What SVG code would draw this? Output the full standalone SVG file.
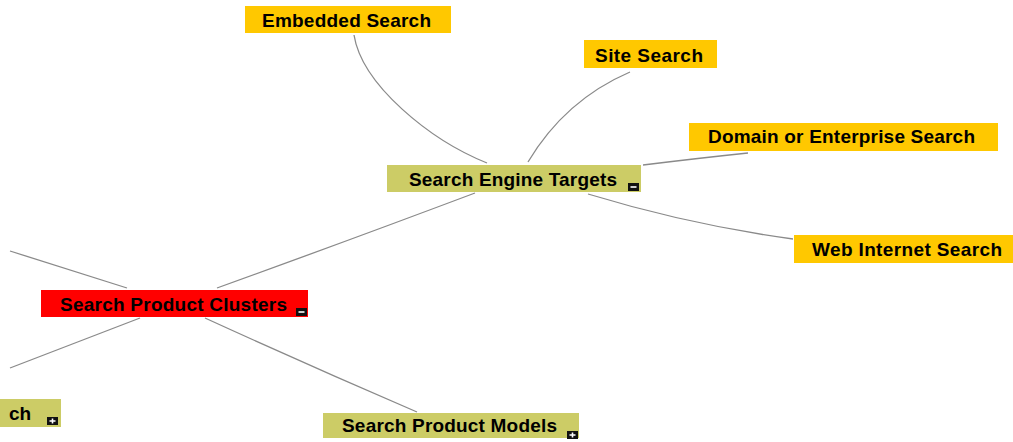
<svg xmlns="http://www.w3.org/2000/svg" width="1013" height="442" viewBox="0 0 1013 442">
  <style>
    .leaf { fill: #FFC800; }
    .branch { fill: #CCCC66; }
    .focus { fill: #FF0000; }
    .label { font-family: "Liberation Sans", Arial, sans-serif; font-weight: bold; font-size: 19px; fill: #000; }
    .edge { fill: none; stroke: #8a8a8a; stroke-width: 1.3; }
    .toggle { fill: #111; }
    .glyph { stroke: #fff; stroke-width: 1.6; fill: none; }
  </style>
  <defs>
    <g id="minus">
      <rect class="toggle" x="0" y="0" width="11" height="8"/>
      <path class="glyph" d="M2.5 4H8.5"/>
    </g>
    <g id="plus">
      <rect class="toggle" x="0" y="0" width="11" height="8"/>
      <path class="glyph" d="M2.5 4H8.5M5.5 1.5V6.5"/>
    </g>
  </defs>
  <rect width="1013" height="442" fill="#ffffff"/>

  <g id="connectors">
    <path class="edge" d="M354 35C362 85 430 140 487 163"/>
    <path class="edge" d="M630 72Q565 100 528 162"/>
    <path class="edge" d="M643 165Q700 158 748 153"/>
    <path class="edge" d="M588 194Q690 225 793 239"/>
    <path class="edge" d="M475 193Q350 240 217 288"/>
    <path class="edge" d="M10 251Q70 270 127 288"/>
    <path class="edge" d="M140 318Q75 343 10 368"/>
    <path class="edge" d="M205 318Q310 366 417 412"/>
  </g>

  <g id="node-embedded-search">
    <rect class="leaf" x="245" y="6" width="206" height="27"/>
    <text class="label" x="262" y="27" textLength="169" lengthAdjust="spacing">Embedded Search</text>
  </g>
  <g id="node-site-search">
    <rect class="leaf" x="584" y="40" width="133" height="28"/>
    <text class="label" x="595" y="62" textLength="108" lengthAdjust="spacing">Site Search</text>
  </g>
  <g id="node-domain-search">
    <rect class="leaf" x="689" y="123" width="309" height="28"/>
    <text class="label" x="708" y="143" textLength="267" lengthAdjust="spacing">Domain or Enterprise Search</text>
  </g>
  <g id="node-web-search">
    <rect class="leaf" x="794" y="235" width="225" height="28"/>
    <text class="label" x="812" y="256" textLength="190" lengthAdjust="spacing">Web Internet Search</text>
  </g>
  <g id="node-search-engine-targets">
    <rect class="branch" x="387" y="165" width="254" height="27"/>
    <text class="label" x="409" y="186" textLength="208" lengthAdjust="spacing">Search Engine Targets</text>
    <use href="#minus" x="628" y="183"/>
  </g>
  <g id="node-search-product-clusters">
    <rect class="focus" x="41" y="290" width="267" height="27"/>
    <text class="label" x="60" y="311" textLength="227" lengthAdjust="spacing">Search Product Clusters</text>
    <use href="#minus" x="296" y="308"/>
  </g>
  <g id="node-left-search">
    <rect class="branch" x="-5" y="399" width="66" height="28"/>
    <text class="label" x="9" y="420">ch</text>
    <use href="#plus" x="47" y="417"/>
  </g>
  <g id="node-search-product-models">
    <rect class="branch" x="323" y="413" width="256" height="25"/>
    <text class="label" x="342" y="432" textLength="215" lengthAdjust="spacing">Search Product Models</text>
    <use href="#plus" x="567" y="431"/>
  </g>
</svg>
